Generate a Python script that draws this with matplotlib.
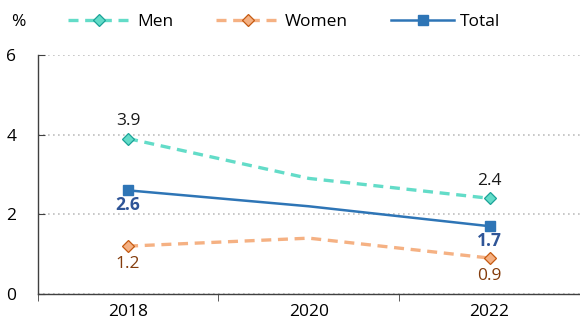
import matplotlib
matplotlib.use("Agg")
import matplotlib.pyplot as plt
import numpy as np

plt.rcParams['font.family'] = ['Open Sans', 'DejaVu Sans']

years = ["2018", "2020", "2022"]
men = [3.9, 2.9, 2.4]
women = [1.2, 1.4, 0.9]
total = [2.6, 2.2, 1.7]
y_ticks = [0, 2, 4, 6]

x = np.arange(len(years))
marked = [0, 2]

fig = plt.figure(figsize=(5.8, 3.23), dpi=100)
ax = fig.add_axes([0.065, 0.09, 0.935, 0.74])

ax.plot(x, men, color="#63DCC8", lw=2.4, ls=(0, (3, 2)), marker="D", ms=6.5,
        mfc="#63DCC8", mec="#1BA398", mew=0.9, markevery=marked, label="Men")
ax.plot(x, women, color="#F5B183", lw=2.4, ls=(0, (3, 2)), marker="D", ms=6.5,
        mfc="#F5B183", mec="#C55A11", mew=0.9, markevery=marked, label="Women")
ax.plot(x, total, color="#2E75B6", lw=1.8, marker="s", ms=7.5,
        mfc="#2E75B6", mec="#2E75B6", markevery=marked, label="Total")

fs = 12.5
for i in marked:
    ax.annotate(f"{men[i]:.1f}", (x[i], men[i]), xytext=(0, 7), textcoords="offset points",
                ha="center", va="bottom", fontsize=fs, color="#1a1a1a")
    ax.annotate(f"{women[i]:.1f}", (x[i], women[i]), xytext=(0, -7), textcoords="offset points",
                ha="center", va="top", fontsize=fs, color="#843C0C")
    ax.annotate(f"{total[i]:.1f}", (x[i], total[i]), xytext=(0, -4), textcoords="offset points",
                ha="center", va="top", fontsize=fs, color="#2F5597", fontweight="bold")

ax.set_xlim(-0.5, 2.5)
ax.set_ylim(0, 6)
ax.set_yticks(y_ticks)
ax.set_xticks(x)
ax.set_xticklabels(years)
ax.set_xticks([-0.5, 0.5, 1.5, 2.5], minor=True)
ax.tick_params(axis="x", which="major", length=0, labelsize=fs, pad=7)
ax.tick_params(axis="x", which="minor", length=5, direction="out", color="#404040")
ax.tick_params(axis="y", length=5, direction="in", labelsize=fs, pad=19, color="#404040")
for lbl in ax.get_yticklabels():
    lbl.set_horizontalalignment("center")

ax.grid(axis="y", color="#BFBFBF", ls=(0, (1, 2)), lw=1.2)
ax.set_axisbelow(True)
for s in ["top", "right"]:
    ax.spines[s].set_visible(False)
for s in ["left", "bottom"]:
    ax.spines[s].set_color("#404040")
    ax.spines[s].set_linewidth(1.0)

fig.text(0.031, 0.932, "%", fontsize=fs, ha="center", va="center")
fig.legend(loc="center", bbox_to_anchor=(0.49, 0.932), ncol=3, frameon=False,
           fontsize=fs, handlelength=3.6, columnspacing=2.5, handletextpad=0.35)

fig.savefig("out.png", dpi=100)
